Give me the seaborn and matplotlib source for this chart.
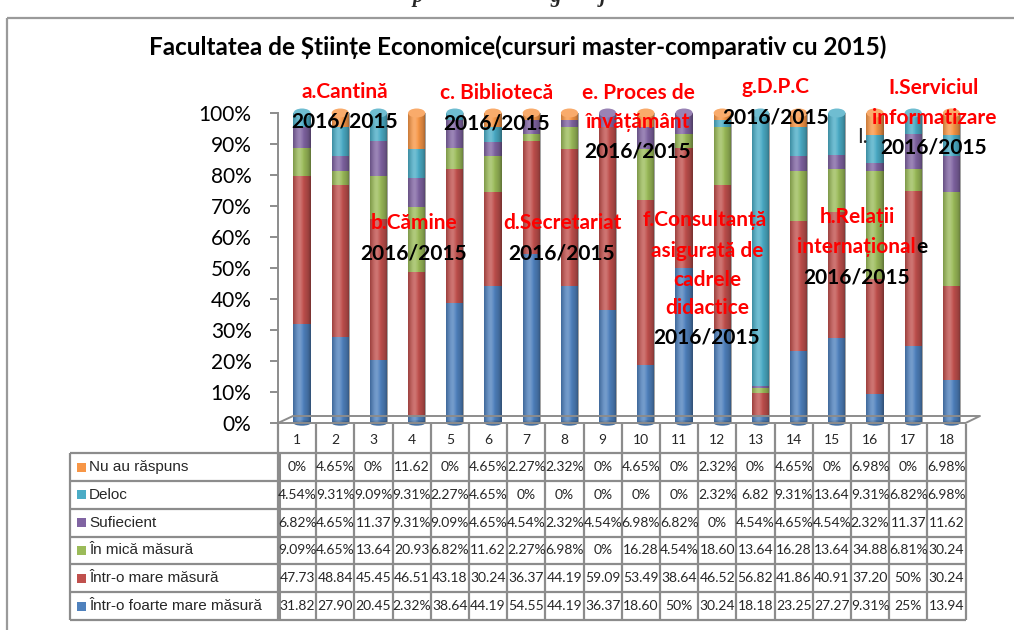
import numpy as np
import pandas as pd
import seaborn as sns
import matplotlib.pyplot as plt
from matplotlib.lines import Line2D
from matplotlib.patches import Rectangle, Ellipse
from matplotlib.colors import to_rgb

W, H = 1014, 630

columns = list(range(1, 19))
categories = ['Nu au răspuns', 'Deloc', 'Sufiecient', 'În mică măsură',
              'Într-o mare măsură', 'Într-o foarte mare măsură']
nu_au_raspuns = [0, 4.65, 0, 11.62, 0, 4.65, 2.27, 2.32, 0, 4.65, 0, 2.32, 0, 4.65, 0, 6.98, 0, 6.98]
# col 13 was typed as 6.82 (= 682%) in the sheet, which is why that column is almost all teal
deloc = [4.54, 9.31, 9.09, 9.31, 2.27, 4.65, 0, 0, 0, 0, 0, 2.32, 682, 9.31, 13.64, 9.31, 6.82, 6.98]
suficient = [6.82, 4.65, 11.37, 9.31, 9.09, 4.65, 4.54, 2.32, 4.54, 6.98, 6.82, 0, 4.54, 4.65, 4.54, 2.32, 11.37, 11.62]
in_mica = [9.09, 4.65, 13.64, 20.93, 6.82, 11.62, 2.27, 6.98, 0, 16.28, 4.54, 18.60, 13.64, 16.28, 13.64, 34.88, 6.81, 30.24]
intr_o_mare = [47.73, 48.84, 45.45, 46.51, 43.18, 30.24, 36.37, 44.19, 59.09, 53.49, 38.64, 46.52, 56.82, 41.86, 40.91, 37.20, 50, 30.24]
foarte_mare = [31.82, 27.90, 20.45, 2.32, 38.64, 44.19, 54.55, 44.19, 36.37, 18.60, 50, 30.24, 18.18, 23.25, 27.27, 9.31, 25, 13.94]
series = [nu_au_raspuns, deloc, suficient, in_mica, intr_o_mare, foarte_mare]
colors = ['#F79646', '#4BACC6', '#8064A2', '#9BBB59', '#C0504D', '#4F81BD']
yticks = [0, 0.1, 0.2, 0.3, 0.4, 0.5, 0.6, 0.7, 0.8, 0.9, 1.0]
ytick_labels = ['0%', '10%', '20%', '30%', '40%', '50%', '60%', '70%', '80%', '90%', '100%']

title = 'Facultatea de Științe Economice(cursuri master-comparativ cu 2015)'

rows = []
for cat, vals in zip(categories, series):
    for c, v in zip(columns, vals):
        rows.append((c, cat, v))
df = pd.DataFrame(rows, columns=['col', 'cat', 'val'])


def fmt(v):
    # how the cells show up in the (narrow) Excel data table
    if v > 100:
        return '%.2f' % (v / 100)
    if float(v).is_integer():
        return '%d%%' % v
    return ('%.2f%%' % v)[:5]


def fx(x):
    return x / W


def fy(y):
    return 1 - y / H


sns.set_style('white')
plt.rcParams['font.family'] = ['Lato', 'DejaVu Sans']

fig = plt.figure(figsize=(W / 100, H / 100), dpi=100)
fig.patch.set_facecolor('white')

GRAY = '#8c8c8c'
x0, x1 = 278, 965.6
cw = (x1 - x0) / 18
ytop, ybot = 113, 423
bar_w = 0.45

ax = fig.add_axes([fx(x0), fy(ybot), (x1 - x0) / W, (ybot - ytop) / H])
sns.histplot(data=df, x='col', hue='cat', weights='val', multiple='fill',
             discrete=True, shrink=bar_w, hue_order=categories,
             palette=dict(zip(categories, colors)), alpha=1, linewidth=0,
             legend=False, ax=ax)

# cylinder look: shading across each column + round top / bottom
grad_x = np.linspace(0, 1, 40)
alpha = np.interp(grad_x, [0, 0.3, 0.55, 0.85, 1], [0.18, 0.0, 0.0, 0.18, 0.38])
shade = np.zeros((1, 40, 4))
shade[0, :, 3] = alpha
hi = np.ones((1, 40, 4))
hi[0, :, 3] = np.interp(grad_x, [0, 0.25, 0.4, 0.6, 1], [0, 0.18, 0.22, 0, 0])
cap_h = 9 / (ybot - ytop)
for k, c in enumerate(columns):
    left, right = c - bar_w / 2, c + bar_w / 2
    ax.imshow(shade, extent=(left, right, 0, 1), aspect='auto', zorder=3, interpolation='bilinear')
    ax.imshow(hi, extent=(left, right, 0, 1), aspect='auto', zorder=3, interpolation='bilinear')
    top_col = next(col for col, s in zip(colors, series) if s[k] > 0)
    bot_col = next(col for col, s in zip(colors[::-1], series[::-1]) if s[k] > 0)
    lt = tuple(0.8 * np.array(to_rgb(top_col)) + 0.2)
    ax.add_patch(Ellipse((c, 1), bar_w, cap_h, color=lt, lw=0, zorder=4, clip_on=False))
    bt = tuple(0.85 * np.array(to_rgb(bot_col)))
    ax.add_patch(Ellipse((c, 0), bar_w, cap_h * 0.6, color=bt, lw=0, zorder=2, clip_on=False))

ax.set_xlim(0.37, 18.37)
ax.set_ylim(0, 1)
ax.set_facecolor('none')
ax.set_xlabel('')
ax.set_ylabel('')
ax.set_xticks([])
ax.set_yticks(yticks)
ax.set_yticklabels(ytick_labels)
for s in ['top', 'right', 'bottom']:
    ax.spines[s].set_visible(False)
ax.spines['left'].set_color(GRAY)
ax.spines['left'].set_linewidth(1.4)
ax.tick_params(axis='y', left=True, length=6, width=1.4, color=GRAY, pad=13,
               labelsize=15, labelcolor='black')


def line(xs, ys, lw=1.6, color=GRAY):
    fig.add_artist(Line2D([fx(x) for x in xs], [fy(y) for y in ys],
                          color=color, lw=lw, solid_capstyle='butt'))


# 3d floor
line([x0, 293, 980, x1, x0], [423, 416, 416, 423, 423], lw=1.4)

# outer frame
line([7, 7], [18, 640], lw=1.6, color='#9a9a9a')
line([7, 1020], [18, 18], lw=1.6, color='#9a9a9a')

# heading of the page above the frame, cut off (only descenders visible)
for ch, xx in [('p', 418), ('g', 556), ('j', 603)]:
    fig.text(fx(xx), fy(2), ch, family='Liberation Serif', style='italic',
             weight='bold', fontsize=15, ha='center', va='baseline')

# ---- data table ----
row_y = [453.3, 481, 508.7, 536.5, 564.3, 592, 620]
for k in range(19):
    line([x0 + k * cw] * 2, [424, 620])
line([70, 70], [row_y[0], row_y[-1]])
line([x0 + 0.5, x0 + 0.5], [row_y[0], row_y[-1]], lw=2.2)
for y in row_y:
    line([70, x1], [y, y])

for k, c in enumerate(columns):
    fig.text(fx(x0 + (k + 0.5) * cw), fy(440), str(c), fontsize=10,
             ha='center', va='center')

for r, (cat, col, vals) in enumerate(zip(categories, colors, series)):
    yc = (row_y[r] + row_y[r + 1]) / 2
    fig.add_artist(Rectangle((fx(77), fy(yc + 4.5)), 9 / W, 9 / H,
                             transform=fig.transFigure, color=col, lw=0))
    fig.text(fx(89), fy(yc), cat, family='Liberation Sans', fontsize=11,
             ha='left', va='center')
    for k, v in enumerate(vals):
        fig.text(fx(x0 + (k + 0.5) * cw), fy(yc), fmt(v), fontsize=10,
                 ha='center', va='center')

# ---- title ----
fig.text(fx(518), fy(47), title, fontsize=17.5, weight='bold', color='black',
         ha='center', va='center')

# ---- annotations ----
RED = '#FF0000'
notes = [
    ('a.Cantină', 345, 92, RED), ('2016/2015', 345, 121, 'black'),
    ('c. Bibliotecă', 497, 93, RED), ('2016/2015', 497, 124, 'black'),
    ('e. Proces de', 638, 93, RED), ('învățământ', 638, 122, RED), ('2016/2015', 638, 152, 'black'),
    ('b.Cămine', 414, 223, RED), ('2016/2015', 414, 253, 'black'),
    ('d.Secretariat', 562, 223, RED), ('2016/2015', 562, 253, 'black'),
    ('f.Consultanță', 705, 220, RED), ('asigurată de', 707, 251, RED),
    ('cadrele', 707, 280, RED), ('didactice', 707, 308, RED), ('2016/2015', 707, 337, 'black'),
    ('g.D.P.C', 776, 87, RED), ('2016/2015', 776, 117, 'black'),
    ('I.Serviciul', 934, 88, RED), ('informatizare', 934, 118, RED), ('2016/2015', 934, 147, 'black'),
    ('h.Relații', 857, 217, RED), ('2016/2015', 857, 277, 'black'),
]
for s, xx, yy, c in notes:
    fig.text(fx(xx), fy(yy), s, color=c, fontsize=15, weight='bold', ha='center', va='center')

red_part = fig.text(fx(916), fy(247), 'internațional', color=RED, fontsize=15,
                    weight='bold', ha='right', va='center')
ax.annotate('e', xy=(1, 0.5), xycoords=red_part, color='black', fontsize=15,
            weight='bold', ha='left', va='center')
fig.text(fx(862), fy(137), 'I.', fontsize=15, ha='center', va='center')

fig.savefig('out.png', dpi=100)
